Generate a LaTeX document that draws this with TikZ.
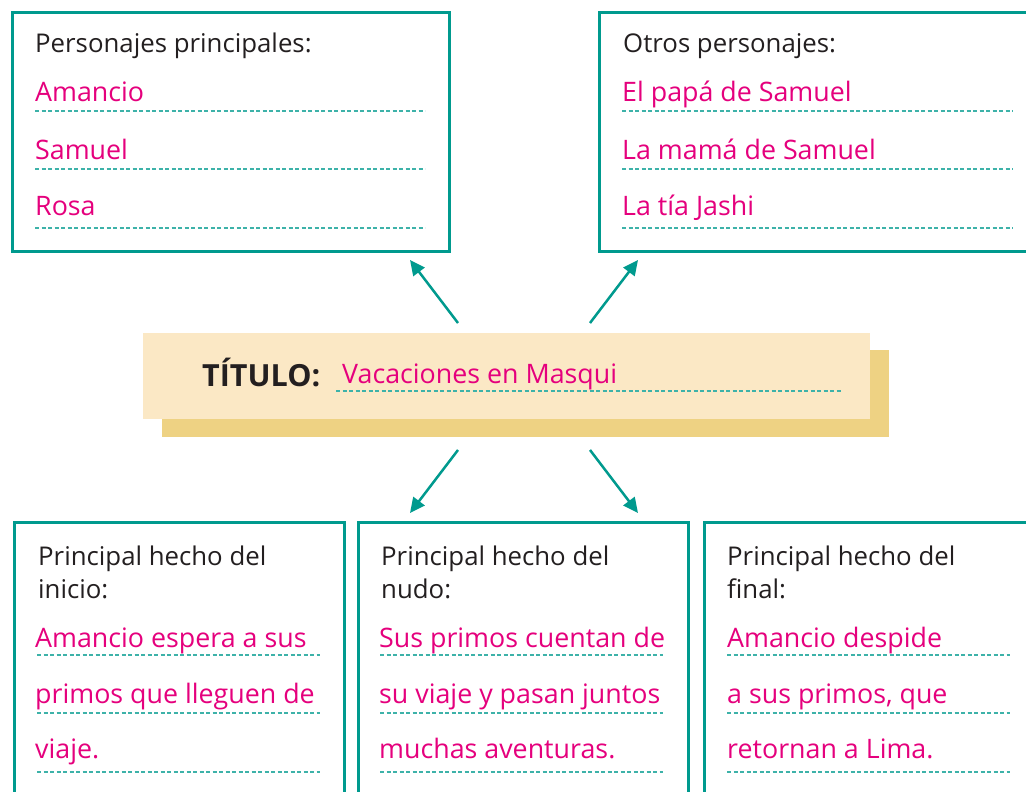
\documentclass[tikz,border=0pt]{standalone}
\usepackage{fontspec}
\setmainfont{Open Sans}
\usetikzlibrary{arrows.meta}
\definecolor{teal1}{HTML}{009A8E}
\definecolor{pink1}{HTML}{E5007D}
\definecolor{dashc}{HTML}{3DB2A9}
\definecolor{lightf}{HTML}{FBE8C5}
\definecolor{darkf}{HTML}{EED283}
\definecolor{ink}{HTML}{231F20}
\tikzset{
  frame/.style={draw=teal1, line width=3pt, rectangle, inner sep=0pt, anchor=north west},
  lbl/.style={anchor=base west, inner sep=0pt, text=ink, font=\fontsize{25.8}{26}\selectfont},
  ans/.style={anchor=base west, inner sep=0pt, text=pink1, font=\fontsize{26.8}{27}\selectfont},
  rulel/.style={draw=dashc, line width=1.2pt, dash pattern=on 4pt off 2.5pt},
  arr/.style={draw=teal1, line width=2.5pt, -{Triangle[length=15pt,width=14pt]}},
  panel/.style={rectangle, inner sep=0pt, anchor=north west},
}
\begin{document}
\begin{tikzpicture}[x=1pt,y=-1pt]
\clip (0,0) rectangle (1026,792);
\fill[white] (0,0) rectangle (1026,792);

% top boxes
\node[frame, minimum width=437pt, minimum height=239pt] (mainbox) at (11,11) {};
\node[frame, minimum width=440pt, minimum height=239pt] (otherbox) at (598,11) {};

\node[lbl] (mainlbl) at (35,53) {Personajes principales:};
\node[ans] (m1) at (35,102) {Amancio};
\node[ans] (m2) at (35,159) {Samuel};
\node[ans] (m3) at (35,215) {Rosa};
\draw[rulel] (35,111) -- (425,111);
\draw[rulel] (35,169) -- (425,169);
\draw[rulel] (35,228) -- (425,228);

\node[lbl] (otherlbl) at (623,53) {Otros personajes:};
\node[ans] (o1) at (622,102) {El papá de Samuel};
\node[ans] (o2) at (622,159) {La mamá de Samuel};
\node[ans] (o3) at (622,215) {La tía Jashi};
\draw[rulel] (622,111) -- (1013,111);
\draw[rulel] (622,169) -- (1013,169);
\draw[rulel] (622,228) -- (1013,228);

% title
\node[panel, fill=darkf, minimum width=727pt, minimum height=87pt] (titleshadow) at (162,350) {};
\node[panel, fill=lightf, minimum width=727pt, minimum height=86pt] (title) at (143,333) {};
\node[anchor=base west, inner sep=0pt, text=ink, font=\fontsize{30.5}{31}\selectfont\bfseries] (titlelbl) at (202,386) {TÍTULO:};
\node[ans] (titletext) at (342,383) {Vacaciones en Masqui};
\draw[rulel] (336,391) -- (842,391);

% arrows
\coordinate (aul0) at (458,323); \coordinate (aul1) at (410,260);
\coordinate (aur0) at (590,323); \coordinate (aur1) at (638,260);
\coordinate (adl0) at (458,450); \coordinate (adl1) at (410,513);
\coordinate (adr0) at (590,450); \coordinate (adr1) at (638,513);
\draw[arr] (aul0) -- (aul1);
\draw[arr] (aur0) -- (aur1);
\draw[arr] (adl0) -- (adl1);
\draw[arr] (adr0) -- (adr1);

% bottom boxes
\node[frame, minimum width=330pt, minimum height=290pt] (startbox) at (13,521) {};
\node[frame, minimum width=330pt, minimum height=290pt] (knotbox) at (357,521) {};
\node[frame, minimum width=340pt, minimum height=290pt] (endbox) at (703,521) {};

\node[lbl] (s0) at (38,565) {Principal hecho del};
\node[lbl] (s0b) at (38,598) {inicio:};
\node[ans] (s1) at (35,647) {Amancio espera a sus};
\node[ans] (s2) at (35,703) {primos que lleguen de};
\node[ans] (s3) at (35,758) {viaje.};
\draw[rulel] (37,655) -- (320,655);
\draw[rulel] (37,713) -- (320,713);
\draw[rulel] (37,772) -- (320,772);

\node[lbl] (k0) at (381,565) {Principal hecho del};
\node[lbl] (k0b) at (381,598) {nudo:};
\node[ans] (k1) at (379,647) {Sus primos cuentan de};
\node[ans] (k2) at (379,703) {su viaje y pasan juntos};
\node[ans] (k3) at (379,758) {muchas aventuras.};
\draw[rulel] (380,655) -- (663,655);
\draw[rulel] (380,713) -- (663,713);
\draw[rulel] (380,772) -- (663,772);

\node[lbl] (e0) at (727,565) {Principal hecho del};
\node[lbl] (e0b) at (727,598) {final:};
\node[ans] (e1) at (727,647) {Amancio despide};
\node[ans] (e2) at (727,703) {a sus primos, que};
\node[ans] (e3) at (727,758) {retornan a Lima.};
\draw[rulel] (727,655) -- (1010,655);
\draw[rulel] (727,713) -- (1010,713);
\draw[rulel] (727,772) -- (1010,772);
\end{tikzpicture}
\end{document}
